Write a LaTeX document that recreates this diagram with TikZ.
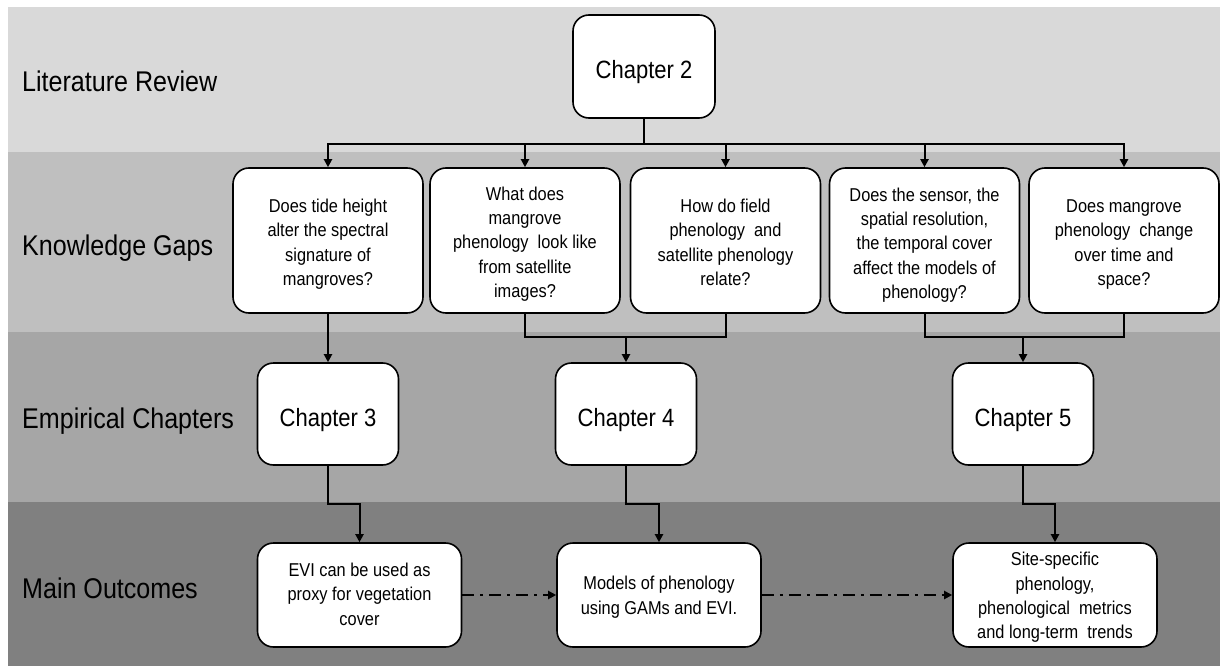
\documentclass[tikz,border=0pt]{standalone}
\usepackage{fontspec}
\setmainfont{Liberation Sans}[FakeStretch=0.88]
\usetikzlibrary{arrows.meta}
\definecolor{bandA}{HTML}{D9D9D9}
\definecolor{bandB}{HTML}{BFBFBF}
\definecolor{bandC}{HTML}{A6A6A6}
\definecolor{bandD}{HTML}{808080}
\newcommand{\boxlines}[2]{\raisebox{#1}[\height][\depth]{\begin{tabular}{@{}c@{}}#2\end{tabular}}}
\begin{document}
\begin{tikzpicture}[x=1pt,y=-1pt,
  box/.style={draw=black, line width=1.6pt, fill=white, rounded corners=16pt, align=center, inner sep=0pt},
  gapbox/.style={box, minimum width=190pt, minimum height=145pt, font=\fontsize{18.6}{24.4}\selectfont},
  chapbox/.style={box, minimum width=141pt, minimum height=102pt, text height=25pt, text depth=0pt, font=\fontsize{25}{30}\selectfont},
  outbox/.style={box, minimum width=204pt, minimum height=104pt, font=\fontsize{18.6}{24.4}\selectfont},
  lab/.style={anchor=base west, inner sep=0pt, font=\fontsize{28.5}{34}\selectfont},
  plain/.style={line width=2pt},
  conn/.style={line width=2pt, -{Triangle[length=8pt,width=8pt]}},
  dconn/.style={line width=2pt, dash pattern=on 12pt off 6pt on 3pt off 6pt, -{Triangle[length=8pt,width=8pt]}}
]
\useasboundingbox (0,0) rectangle (1220,666);
\fill[white] (0,0) rectangle (1220,666);
\fill[bandA] (8,7) rectangle (1220,152);
\fill[bandB] (8,152) rectangle (1220,332);
\fill[bandC] (8,332) rectangle (1220,502);
\fill[bandD] (8,502) rectangle (1220,666);

\node[lab] (l1) at (22,92) {Literature Review};
\node[lab] (l2) at (22,255) {Knowledge Gaps};
\node[lab] (l3) at (22,428) {Empirical Chapters};
\node[lab] (l4) at (22,598) {Main Outcomes};

\node[chapbox, minimum width=142pt, minimum height=103pt] (ch2) at (644,66.5) {Chapter 2};

\node[gapbox] (g1) at (328,240.5) {\boxlines{-3.5pt}{Does tide height\\alter the spectral\\signature of\\mangroves?}};
\node[gapbox] (g2) at (525,240.5) {\boxlines{-3.5pt}{What does\\mangrove\\phenology\ \ look like\\from satellite\\images?}};
\node[gapbox] (g3) at (725.5,240.5) {\boxlines{-3.5pt}{How do field\\phenology\ \ and\\satellite phenology\\relate?}};
\node[gapbox] (g4) at (924.5,240.5) {\boxlines{-4.5pt}{Does the sensor, the\\spatial resolution,\\the temporal cover\\affect the models of\\phenology?}};
\node[gapbox] (g5) at (1124,240.5) {\boxlines{-3.5pt}{Does mangrove\\phenology\ \ change\\over time and\\space?}};

\node[chapbox] (ch3) at (328,414) {Chapter 3};
\node[chapbox] (ch4) at (626,414) {Chapter 4};
\node[chapbox] (ch5) at (1023,414) {Chapter 5};

\node[outbox] (o1) at (359.5,595) {\boxlines{-1pt}{EVI can be used as\\proxy for vegetation\\cover}};
\node[outbox] (o2) at (659,595) {\boxlines{-2pt}{Models of phenology\\using GAMs and EVI.}};
\node[outbox] (o3) at (1055,595) {\boxlines{-2.5pt}{Site-specific\\phenology,\\phenological\ \ metrics\\and long-term\ \ trends}};

% top bus
\foreach \g in {g1,g2,g3,g4,g5}{
  \draw[conn] (ch2.south) -- ++(0,25) -| (\g.north);
}
% gaps to chapters
\draw[conn] (g1.south) -- (ch3.north);
\coordinate (j4) at (626,337);
\coordinate (j5) at (1023,337);
\draw[plain] (g2.south) |- (j4) -| (g3.south);
\draw[conn] (j4) -- (ch4.north);
\draw[plain] (g4.south) |- (j5) -| (g5.south);
\draw[conn] (j5) -- (ch5.north);
% chapters to outcomes
\draw[conn] (ch3.south) -- ++(0,38) -| (o1.north);
\draw[conn] (ch4.south) -- ++(0,38) -| (o2.north);
\draw[conn] (ch5.south) -- ++(0,38) -| (o3.north);
% dashed links
\draw[dconn] (o1.east) -- (o2.west);
\draw[dconn] (o2.east) -- (o3.west);
\end{tikzpicture}
\end{document}
